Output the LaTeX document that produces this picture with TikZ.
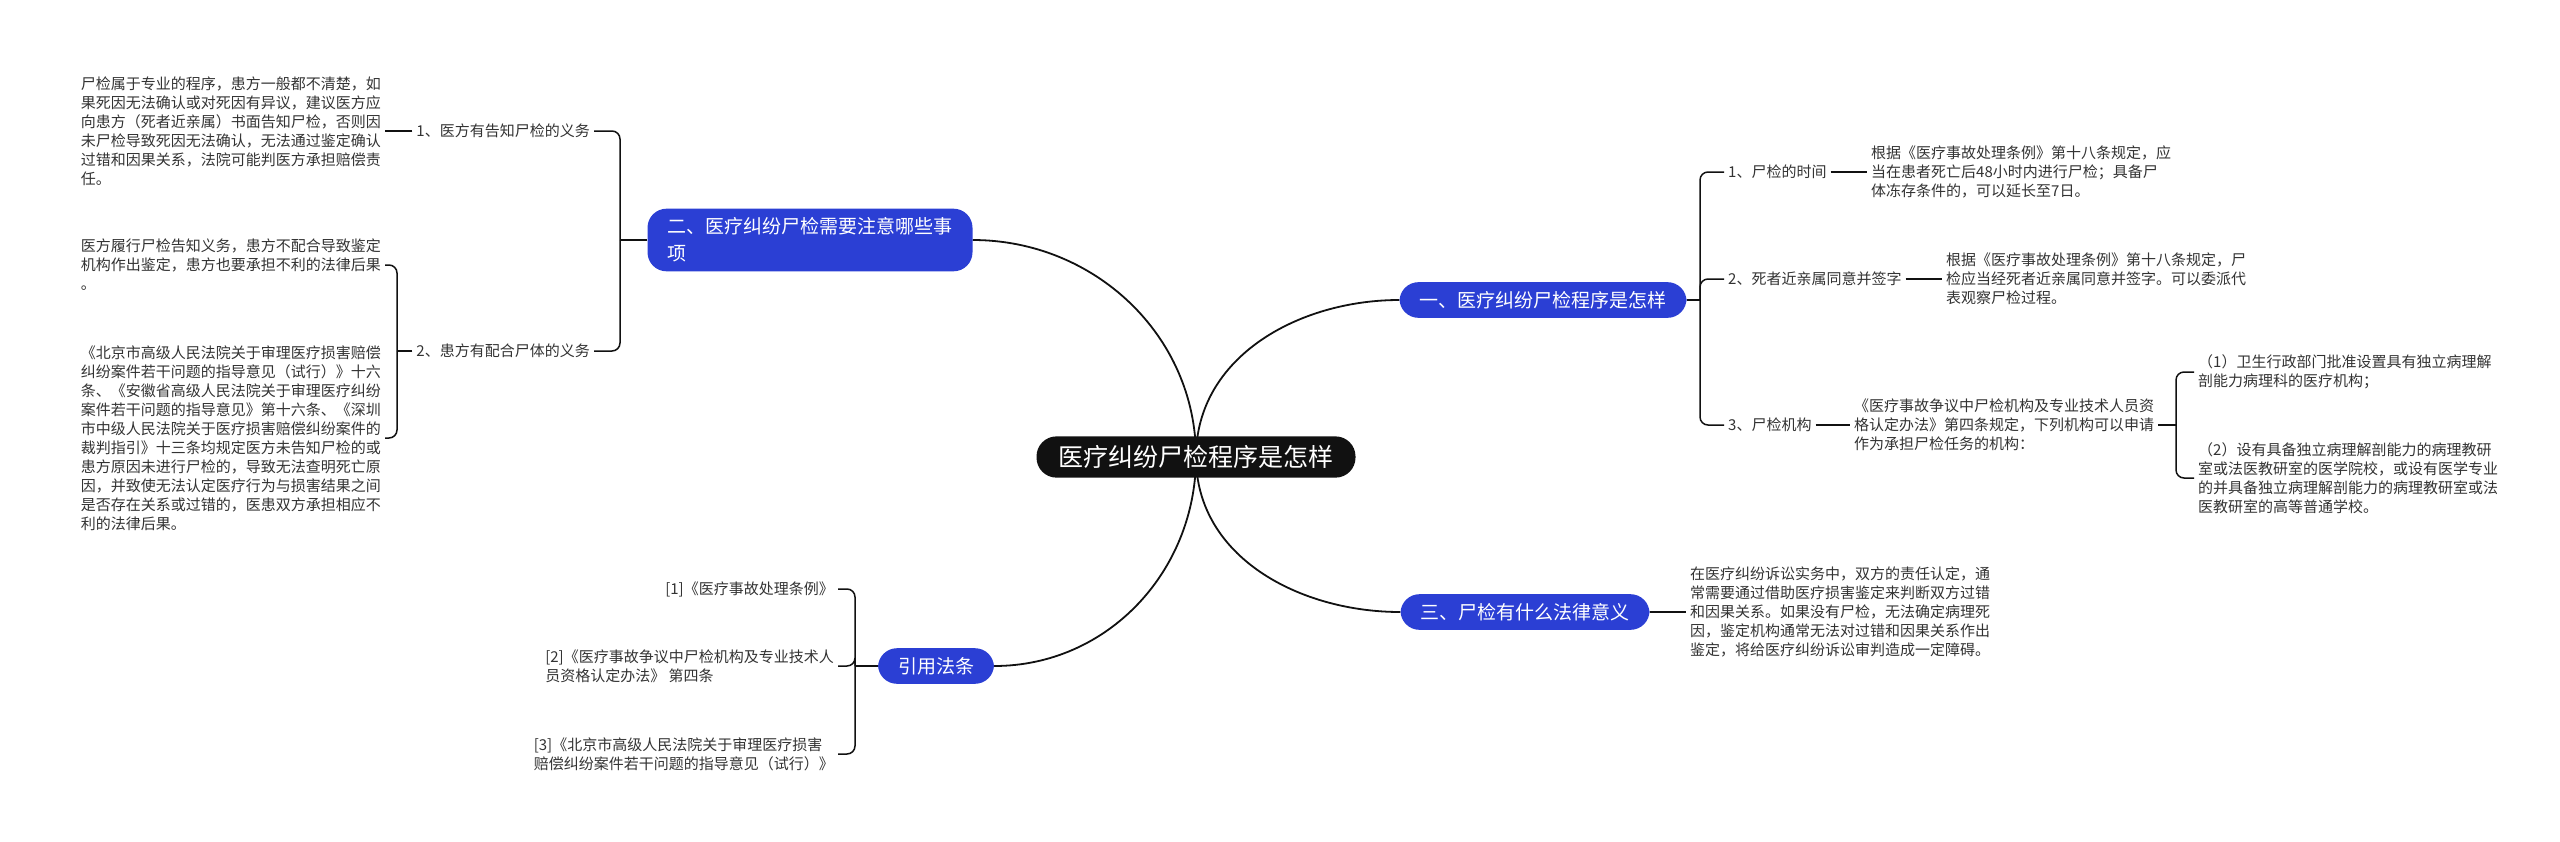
\documentclass[tikz,border=0pt]{standalone}
\usepackage{fontspec}
\setmainfont{Noto Sans CJK SC}
\usetikzlibrary{positioning,backgrounds}
\definecolor{topicblue}{RGB}{43,63,212}
\definecolor{rootblack}{RGB}{17,17,17}
\definecolor{txtgray}{RGB}{51,51,51}
\tikzset{
  root/.style={rounded corners=20pt,fill=rootblack,text=white,inner xsep=22pt,inner ysep=9pt,font=\fontsize{25}{30}\selectfont},
  topic/.style={rounded corners=19pt,fill=topicblue,text=white,inner xsep=20pt,inner ysep=9pt,font=\fontsize{19}{27}\selectfont,align=left},
  leaf/.style={text=txtgray,inner sep=4pt,font=\fontsize{15}{19}\selectfont,align=left},
  link/.style={line width=1.8pt,rootblack},
  twig/.style={line width=1.5pt,rootblack,rounded corners=8pt},
}
\begin{document}
\begin{tikzpicture}[x=1pt,y=-1pt]
    \useasboundingbox (0,0) rectangle (2560,841);
    \node[root] (root) at (1196,457) {医疗纠纷尸检程序是怎样};
    \node[topic] (t1) at (1543,300) {一、医疗纠纷尸检程序是怎样};
    \node[topic] (t2) at (810,240) {二、医疗纠纷尸检需要注意哪些事\\项};
    \node[topic] (t3) at (1525,612) {三、尸检有什么法律意义};
    \node[topic] (t4) at (936,666) {引用法条};

    % one
    \node[leaf,anchor=west] (a1) at (1724,172) {1、尸检的时间};
    \node[leaf,anchor=west] (a2) at (1724,279) {2、死者近亲属同意并签字};
    \node[leaf,anchor=west] (a3) at (1724,425) {3、尸检机构};
    \node[leaf,anchor=west] (a1x) at (1867,172) {根据《医疗事故处理条例》第十八条规定，应\\当在患者死亡后48小时内进行尸检；具备尸\\体冻存条件的，可以延长至7日。};
    \node[leaf,anchor=west] (a2x) at (1942,279) {根据《医疗事故处理条例》第十八条规定，尸\\检应当经死者近亲属同意并签字。可以委派代\\表观察尸检过程。};
    \node[leaf,anchor=west] (a3x) at (1850,425) {《医疗事故争议中尸检机构及专业技术人员资\\格认定办法》第四条规定，下列机构可以申请\\作为承担尸检任务的机构：};
    \node[leaf,anchor=west] (a3a) at (2194,372) {（1）卫生行政部门批准设置具有独立病理解\\剖能力病理科的医疗机构；};
    \node[leaf,anchor=west] (a3b) at (2194,478) {（2）设有具备独立病理解剖能力的病理教研\\室或法医教研室的医学院校，或设有医学专业\\的并具备独立病理解剖能力的病理教研室或法\\医教研室的高等普通学校。};

    % two
    \node[leaf,anchor=east] (b1) at (594,131) {1、医方有告知尸检的义务};
    \node[leaf,anchor=east] (b2) at (594,351) {2、患方有配合尸体的义务};
    \node[leaf,anchor=east] (b1x) at (385,131) {尸检属于专业的程序，患方一般都不清楚，如\\果死因无法确认或对死因有异议，建议医方应\\向患方（死者近亲属）书面告知尸检，否则因\\未尸检导致死因无法确认，无法通过鉴定确认\\过错和因果关系，法院可能判医方承担赔偿责\\任。};
    \node[leaf,anchor=east] (b2a) at (385,265) {医方履行尸检告知义务，患方不配合导致鉴定\\机构作出鉴定，患方也要承担不利的法律后果\\。};
    \node[leaf,anchor=east] (b2b) at (385,438) {《北京市高级人民法院关于审理医疗损害赔偿\\纠纷案件若干问题的指导意见（试行）》十六\\条、《安徽省高级人民法院关于审理医疗纠纷\\案件若干问题的指导意见》第十六条、《深圳\\市中级人民法院关于医疗损害赔偿纠纷案件的\\裁判指引》十三条均规定医方未告知尸检的或\\患方原因未进行尸检的，导致无法查明死亡原\\因，并致使无法认定医疗行为与损害结果之间\\是否存在关系或过错的，医患双方承担相应不\\利的法律后果。};

    % three
    \node[leaf,anchor=west] (c1) at (1686,612) {在医疗纠纷诉讼实务中，双方的责任认定，通\\常需要通过借助医疗损害鉴定来判断双方过错\\和因果关系。如果没有尸检，无法确定病理死\\因，鉴定机构通常无法对过错和因果关系作出\\鉴定，将给医疗纠纷诉讼审判造成一定障碍。};

    % citations
    \node[leaf,anchor=east] (d1) at (838,589) {[1]《医疗事故处理条例》};
    \node[leaf,anchor=east] (d2) at (838,666) {[2]《医疗事故争议中尸检机构及专业技术人\\员资格认定办法》 第四条};
    \node[leaf,anchor=east] (d3) at (838,754) {[3]《北京市高级人民法院关于审理医疗损害\\赔偿纠纷案件若干问题的指导意见（试行）》};

    \begin{scope}[on background layer]
    \draw[link] (root.center) to[out=90,in=180] (t1.west);
    \draw[link] (root.center) to[out=90,in=0] (t2.east);
    \draw[link] (root.center) to[out=-90,in=180] (t3.west);
    \draw[link] (root.center) to[out=-90,in=0] (t4.east);
    \end{scope}

    \draw[twig] (t1.east) -- (1700,300);
    \foreach \k in {a1,a2,a3}
      \draw[twig] (1700,300) |- (\k.west);
    \draw[twig] (a1.east) -- (a1x.west);
    \draw[twig] (a2.east) -- (a2x.west);
    \draw[twig] (a3.east) -- (a3x.west);
    \draw[twig] (a3x.east) -- (2176,425);
    \foreach \k in {a3a,a3b}
      \draw[twig] (2176,425) |- (\k.west);

    \draw[twig] (t2.west) -- (620,240);
    \foreach \k in {b1,b2}
      \draw[twig] (620,240) |- (\k.east);
    \draw[twig] (b1.west) -- (b1x.east);
    \draw[twig] (b2.west) -- (397,351);
    \foreach \k in {b2a,b2b}
      \draw[twig] (397,351) |- (\k.east);

    \draw[twig] (t3.east) -- (c1.west);

    \draw[twig] (t4.west) -- (855,666);
    \foreach \k in {d1,d2,d3}
      \draw[twig] (855,666) |- (\k.east);
\end{tikzpicture}
\end{document}
